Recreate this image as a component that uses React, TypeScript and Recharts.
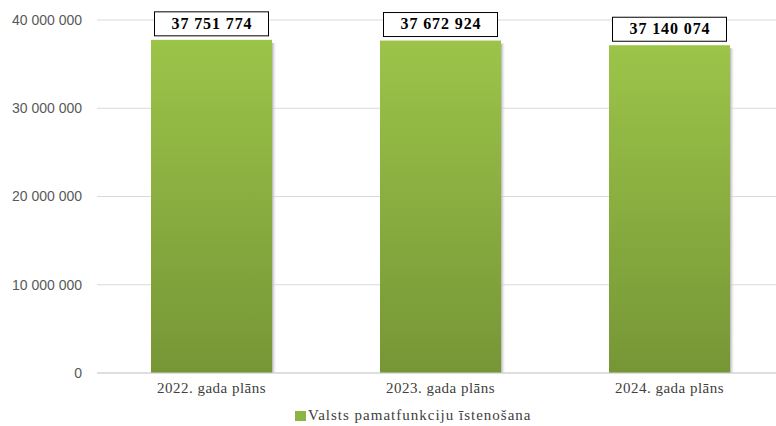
import React from 'react';
import { BarChart, Bar, XAxis, YAxis, CartesianGrid, LabelList } from 'recharts';

const categories = ['2022. gada plāns', '2023. gada plāns', '2024. gada plāns'];
const values = [37751774, 37672924, 37140074];
const yTicks = [0, 10000000, 20000000, 30000000, 40000000];
const seriesName = 'Valsts pamatfunkciju īstenošana';

const data = categories.map((c, i) => ({ name: c, value: values[i] }));

const SERIF = "'Liberation Serif', 'Times New Roman', serif";

const fmt = (v: number) => Math.round(v).toString().replace(/\B(?=(\d{3})+(?!\d))/g, ' ');

const BarShape = (props: any) => {
  const { x, y, width, height } = props;
  if (height <= 0) return null;
  return (
    <g>
      <rect x={x + width} y={y + 3} width={5} height={height - 3} fill="url(#shadowGrad)" />
      <rect x={x} y={y} width={width} height={height} fill="url(#barGrad)" />
    </g>
  );
};

const ValueLabel = (props: any) => {
  const { x, y, width, value } = props;
  const cx = x + width / 2;
  const bw = 114;
  const bh = 24;
  const by = y - 4 - bh;
  return (
    <g>
      <rect x={cx - bw / 2} y={by} width={bw} height={bh} fill="#ffffff" stroke="#000000" strokeWidth={1} />
      <text x={cx + 0.5} y={by + bh / 2 + 1} textAnchor="middle" dominantBaseline="middle"
        fontFamily={SERIF} fontWeight="bold" fontSize={16} letterSpacing={0.9} fill="#000000">
        {fmt(value)}
      </text>
    </g>
  );
};

const CatTick = (props: any) => {
  const { x, y, payload } = props;
  return (
    <text x={x} y={y + 12} textAnchor="middle" fontFamily={SERIF} fontSize={15} letterSpacing={0.5} fill="#404040">
      {payload.value}
    </text>
  );
};

export default function App() {
  return (
    <div style={{ position: 'fixed', left: 0, top: 0, width: 776, height: 426, overflow: 'hidden', background: '#ffffff' }}>
      <BarChart width={800} height={426} data={data} margin={{ top: 20, right: 16, left: 0, bottom: 0 }}>
        <defs>
          <linearGradient id="barGrad" x1="0" y1="0" x2="0" y2="1">
            <stop offset="0%" stopColor="#9cc449" />
            <stop offset="100%" stopColor="#769636" />
          </linearGradient>
          <linearGradient id="shadowGrad" x1="0" y1="0" x2="1" y2="0">
            <stop offset="0%" stopColor="#a8a8a8" stopOpacity={0.9} />
            <stop offset="100%" stopColor="#ffffff" stopOpacity={0} />
          </linearGradient>
        </defs>
        <CartesianGrid vertical={false} stroke="#d9d9d9" />
        <XAxis dataKey="name" height={53} tickLine={false} axisLine={{ stroke: '#d0d0d0' }} tick={<CatTick />} />
        <YAxis width={97} domain={[0, 40000000]} ticks={yTicks} tickFormatter={fmt} axisLine={false} tickLine={false}
          tickMargin={9} interval={0}
          tick={{ fill: '#595959', fontSize: 14, fontFamily: "'Liberation Sans', Arial, sans-serif" }} />
        <Bar dataKey="value" name={seriesName} barSize={121} shape={<BarShape />} isAnimationActive={false}>
          <LabelList dataKey="value" content={<ValueLabel />} />
        </Bar>
      </BarChart>
      <div style={{ position: 'absolute', left: 295, top: 407, display: 'flex', alignItems: 'center',
        fontFamily: SERIF, fontSize: 15, letterSpacing: 1, color: '#404040', whiteSpace: 'nowrap' }}>
        <span style={{ display: 'inline-block', width: 11, height: 10, background: '#8db543', marginRight: 2 }} />
        <span>{seriesName}</span>
      </div>
    </div>
  );
}
